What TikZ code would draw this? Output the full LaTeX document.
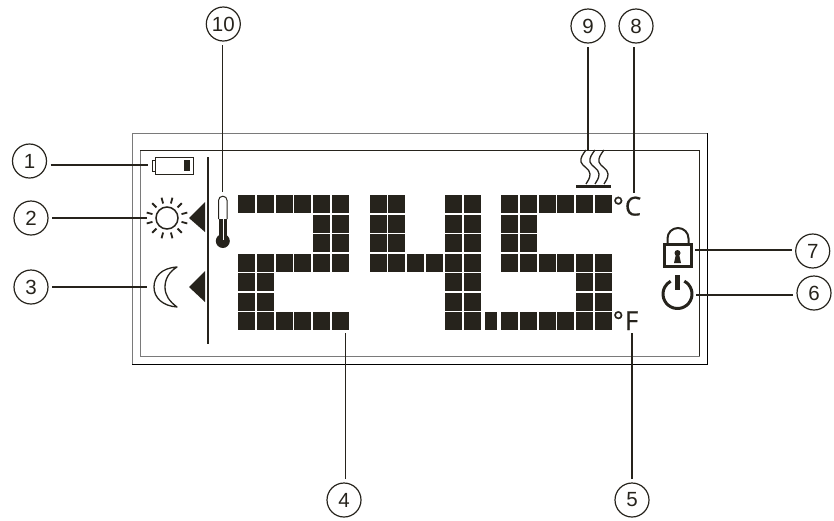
\documentclass[tikz,border=0pt]{standalone}
\usepackage{fontspec}
\setmainfont{Liberation Sans}
\newfontfamily\unitfont[FakeBold=0.6]{Open Sans}
\definecolor{ink}{HTML}{26231C}
\definecolor{frame}{HTML}{7A7A7A}
\newcommand\digitrow[3]{%
  \foreach \c in {#3}{%
    \pgfmathsetmacro\xs{{#1}[\c]}%
    \pgfmathsetmacro\ys{{195,215,234,254,273,293,312}[#2]}%
    \fill[ink] (\xs,\ys) rectangle ++(17,18);
  }}
\tikzset{
  callout/.style={draw=ink,circle,line width=1.2pt,minimum size=34pt,inner sep=0pt,outer sep=4pt,font=\fontsize{20.5}{20.5}\selectfont,text=ink},
  leader/.style={draw=ink,line width=1.3pt},
  outline/.style={draw=ink,line width=1pt},
  unit/.style={inner sep=0pt,text=ink,font=\unitfont\fontsize{26}{26}\selectfont}
}
\begin{document}
\begin{tikzpicture}[x=1pt,y=-1pt]
\useasboundingbox (0,0) rectangle (834,520);
% frames
\draw[frame,line width=1pt] (132,364) -- (132,133) -- (707,133);
\draw[black,line width=1pt] (707,133) -- (707,364) -- (132,364);
\draw[frame,line width=1pt] (140,150) -- (140,356) -- (699.5,356);
\draw[ink,line width=1pt] (140,150) -- (699.5,150) -- (699.5,356);
% callouts
\node[callout] (n1) at (29.5,161) {1};
\node[callout] (n2) at (31,218) {2};
\node[callout] (n3) at (31,287) {3};
\node[callout] (n4) at (344,500) {4};
\node[callout] (n5) at (632,500) {5};
\node[callout] (n6) at (814,293) {6};
\node[callout] (n7) at (812.7,251) {7};
\node[callout] (n8) at (636,26) {8};
\node[callout] (n9) at (588,26) {9};
\node[callout] (n10) at (223.3,24) {10};
% leader ends
\coordinate (t1) at (148,165);
\coordinate (t2) at (147,218);
\coordinate (t3) at (147,287);
\coordinate (t4) at (345.7,333);
\coordinate (t5) at (632,333);
\coordinate (t6) at (696,295);
\coordinate (t7) at (695,250);
\coordinate (t8) at (634,193);
\coordinate (t9) at (588,150);
\coordinate (t10) at (222.5,192);
\draw[leader] (n1.east |- t1) -- (t1);
\draw[leader] (n2.east |- t2) -- (t2);
\draw[leader] (n3.east |- t3) -- (t3);
\draw[leader] (n4.north -| t4) -- (t4);
\draw[leader] (n5.north -| t5) -- (t5);
\draw[leader] (n6.west |- t6) -- (t6);
\draw[leader] (n7.west |- t7) -- (t7);
\draw[leader] (n8.south -| t8) -- (t8);
\draw[leader] (n9.south -| t9) -- (t9);
\draw[leader] (n10.south -| t10) -- (t10);
% divider
\draw[ink,line width=1.5pt] (208,157) -- (208,344);
% battery
\draw[outline] (155,157) rectangle (193,174);
\draw[outline] (155,160.5) -- (152.5,160.5) -- (152.5,171) -- (155,171);
\fill[ink] (184,160) rectangle (190,171);
% sun
\draw[ink,line width=1.5pt] (167,218) circle (11);
\foreach \a in {15,45,...,345}
  \draw[ink,line width=1.8pt] (167,218) ++(\a:15) -- ++(\a:6);
\fill[ink] (189,218) -- (205,202) -- (205,232) -- cycle;
% moon
\draw[ink,line width=1.3pt,line join=round] (177,267) .. controls (161,268) and (154,277) .. (154,287)
  .. controls (154,298) and (163,306) .. (177,307)
  .. controls (169,301) and (165,295) .. (165,287)
  .. controls (165,279) and (169,272) .. (177,267) -- cycle;
\fill[ink] (189,287) -- (205,271) -- (205,302) -- cycle;
% thermometer
\fill[ink] (222.8,241) circle (7);
\fill[ink] (218.5,219) rectangle (227.1,238);
\draw[ink,line width=1pt] (218.5,219) -- (218.5,200.5) .. controls (218.5,198) and (220.4,196.2) .. (222.8,196.2) .. controls (225.2,196.2) and (227.1,198) .. (227.1,200.5) -- (227.1,219);
\draw[white,line width=.4pt] (222.8,219) -- (222.8,240);
% digit 2
\def\cola{238,257,276,294,313,332}
\def\colb{370,388,407,426,445,464}
\def\colc{501,520,539,557,576,595}
\digitrow{\cola}{0}{0,...,5}
\digitrow{\cola}{1}{4,5}
\digitrow{\cola}{2}{4,5}
\digitrow{\cola}{3}{0,...,5}
\digitrow{\cola}{4}{0,1}
\digitrow{\cola}{5}{0,1}
\digitrow{\cola}{6}{0,...,5}
% digit 4
\digitrow{\colb}{0}{0,1,4,5}
\digitrow{\colb}{1}{0,1,4,5}
\digitrow{\colb}{2}{0,1,4,5}
\digitrow{\colb}{3}{0,...,5}
\digitrow{\colb}{4}{4,5}
\digitrow{\colb}{5}{4,5}
\digitrow{\colb}{6}{4,5}
% decimal point
\fill[ink] (485,312) rectangle (497,330);
% digit 5
\digitrow{\colc}{0}{0,...,5}
\digitrow{\colc}{1}{0,1}
\digitrow{\colc}{2}{0,1}
\digitrow{\colc}{3}{0,...,5}
\digitrow{\colc}{4}{4,5}
\digitrow{\colc}{5}{4,5}
\digitrow{\colc}{6}{0,...,5}
% heater
\foreach \d in {0,9,18}{
  \draw[ink,line width=1.3pt] (586+\d,150) .. controls (583+\d,154) and (580+\d,158) .. (581+\d,162)
    .. controls (582+\d,166) and (590+\d,169) .. (590+\d,174)
    .. controls (590+\d,178) and (588+\d,181) .. (586+\d,184);
}
\fill[ink] (576,185) rectangle (611,188);
% units
\node[unit,anchor=base west] (uc) at (612.5,215.5) {°\kern1pt C};
\node[unit,anchor=base west] (uf) at (612.5,330) {°\kern1pt F};
% lock
\draw[ink,line width=2.2pt] (664.5,244.5) rectangle (691.5,266.5);
\draw[ink,line width=2pt] (667.5,244) -- (667.5,238.5) .. controls (667.5,232.5) and (672.2,228) .. (678,228) .. controls (683.8,228) and (688.5,232.5) .. (688.5,238.5) -- (688.5,244);
\fill[ink] (677.5,253) circle (3);
\fill[ink] (676,254) -- (679,254) -- (681,263) -- (674,263) -- cycle;
% power
\begin{scope}[shift={(677.5,294)},y=1pt]
\draw[ink,line width=3pt] (62:14.5) arc[start angle=62,end angle=-242,radius=14.5];
\end{scope}
\fill[ink] (675,275) rectangle (680,290);
\end{tikzpicture}
\end{document}
